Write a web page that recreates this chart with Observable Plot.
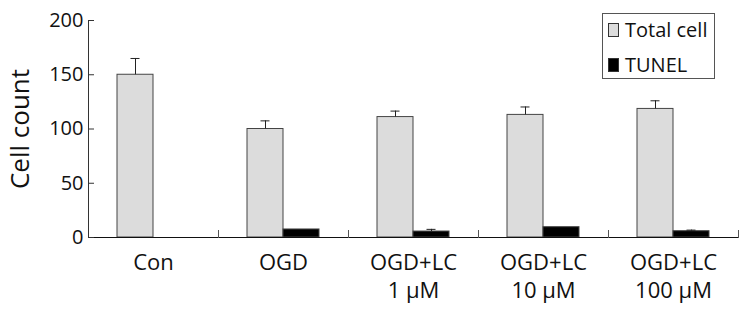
<!DOCTYPE html>
<html>
<head>
<meta charset="utf-8">
<script src="https://cdn.jsdelivr.net/npm/d3@7"></script>
<script src="https://cdn.jsdelivr.net/npm/@observablehq/plot@0.6"></script>
<style>
  html, body { margin: 0; padding: 0; background: #fff; }
  #wrap { position: relative; width: 743px; height: 310px; font-family: "Open Sans", "Noto Sans", sans-serif; }
  #legend { position: absolute; left: 602px; top: 13px; width: 111px; height: 64px; border: 1px solid #555; background: #fff; }
  .item { position: absolute; left: 5px; display: flex; align-items: center; font-size: 20px; color: #111; }
  .sw { width: 9px; height: 12px; border: 1px solid #333; margin-right: 6px; }
</style>
</head>
<body>
<div id="wrap"></div>
<script>
const groups = ["Con", "OGD", "LC1", "LC10", "LC100"];
const tickLabels = ["Con", "OGD", "OGD+LC\n1 μM", "OGD+LC\n10 μM", "OGD+LC\n100 μM"];
const seriesNames = ["Total cell", "TUNEL"];
const totalCell = [150, 100, 111, 113, 118.5];
const totalErr = [15, 7.5, 5.5, 7.3, 7.5];
const tunel = [0, 7.4, 5.5, 9.5, 5.8];
const tunelErr = [0, 0, 2, 0, 1];
const yTicks = [0, 50, 100, 150, 200];
const colors = ["#dcdcdc", "#000000"];

const rows = [];
groups.forEach((g, i) => {
  rows.push({group: g, series: seriesNames[0], value: totalCell[i], err: totalErr[i]});
  rows.push({group: g, series: seriesNames[1], value: tunel[i], err: tunelErr[i]});
});
const errRows = rows.filter(d => d.err > 0);

const chart = Plot.plot({
  width: 743,
  height: 310,
  marginLeft: 88,
  marginRight: 5,
  marginTop: 20,
  marginBottom: 73,
  style: {fontFamily: "Open Sans, Noto Sans, sans-serif", color: "#111", background: "#fff"},
  fx: {domain: groups, padding: 0},
  x: {domain: seriesNames, paddingInner: 0, paddingOuter: 0.757, axis: null},
  y: {domain: [0, 200], axis: null},
  color: {domain: seriesNames, range: colors},
  marks: [
    Plot.barY(rows, {fx: "group", x: "series", y: "value", fill: "series", stroke: "#444", strokeWidth: 1}),
    Plot.ruleX(errRows, {fx: "group", x: "series", y1: "value", y2: d => d.value + d.err, stroke: "#222"}),
    Plot.tickY(errRows, {fx: "group", x: "series", y: d => d.value + d.err, stroke: "#222", insetLeft: 13.5, insetRight: 13.5}),
    Plot.ruleY([0], {stroke: "#111"}),
    Plot.frame({anchor: "right", insetTop: 210, stroke: "#555"}),
    Plot.frame({anchor: "left", fx: () => groups[0], stroke: "#333"}),
    Plot.axisY({ticks: yTicks, tickSize: -6, tickPadding: 11, fontSize: 20, label: null, stroke: "#333"}),
    Plot.axisY({ticks: [], label: "Cell count", labelAnchor: "center", labelArrow: "none", labelOffset: 78, fontSize: 26}),
    Plot.axisFx({anchor: "bottom", tickSize: 0, tickPadding: 13, fontSize: 22, lineHeight: 1.25, label: null,
      tickFormat: (d) => tickLabels[groups.indexOf(d)]})
  ]
});

const wrap = document.getElementById("wrap");
wrap.appendChild(chart);

const legend = document.createElement("div");
legend.id = "legend";
seriesNames.forEach((s, i) => {
  const item = document.createElement("div");
  item.className = "item";
  item.style.top = (i === 0 ? 2 : 37) + "px";
  const sw = document.createElement("span");
  sw.className = "sw";
  sw.style.background = colors[i];
  const t = document.createElement("span");
  t.textContent = s;
  item.appendChild(sw);
  item.appendChild(t);
  legend.appendChild(item);
});
wrap.appendChild(legend);
</script>
</body>
</html>
